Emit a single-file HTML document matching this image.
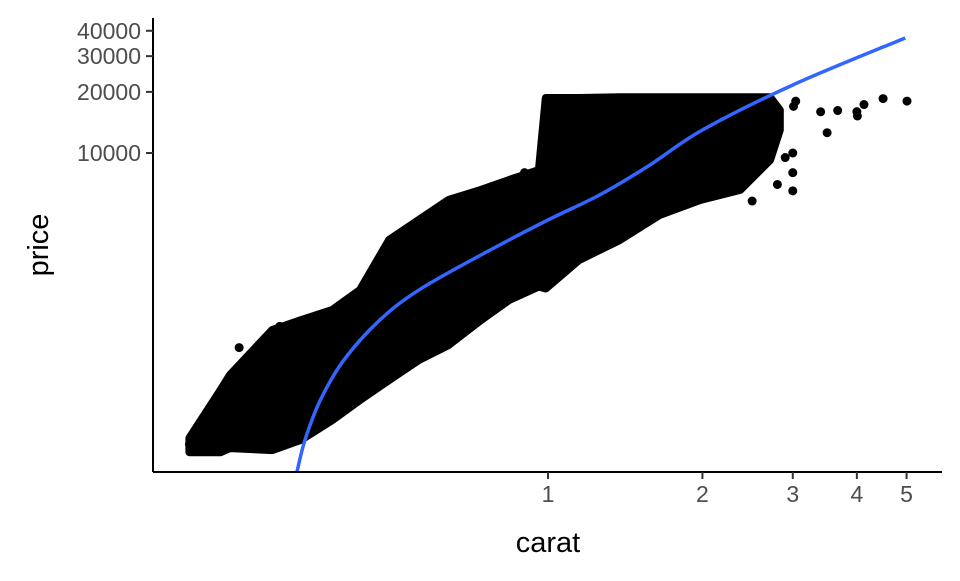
<!DOCTYPE html>
<html><head><meta charset="utf-8"><style>
body{margin:0;background:#fff}
svg text{font-family:"Liberation Sans",sans-serif}
</style></head><body>
<svg id="chart" width="960" height="576" viewBox="0 0 960 576" xmlns="http://www.w3.org/2000/svg">
<defs><clipPath id="plotclip"><rect x="153" y="18" width="789" height="454"/></clipPath></defs>
<g id="band" clip-path="url(#plotclip)"></g>
<g id="pts"></g>
<g id="smooth" clip-path="url(#plotclip)"></g>
<line x1="153" y1="472" x2="942" y2="472" stroke="#000" stroke-width="2"/>
<line x1="153" y1="18" x2="153" y2="472" stroke="#000" stroke-width="2"/>
<g id="xt"></g>
<g id="yt"></g>
<text x="548" y="552" font-size="29" text-anchor="middle" fill="#000">carat</text>
<text transform="translate(48,245) rotate(-90)" font-size="29" text-anchor="middle" fill="#000">price</text>
</svg>
<script>
const bandCarat = [0.2,0.23,0.24,0.29,0.33,0.38,0.43,0.49,0.56,0.64,0.74,0.84,0.96,0.99,1.15,1.38,1.65,1.98,2.37,2.71,2.83];
const bandHigh = [394,680,806,1343,1503,1686,2113,3727,4677,5866,6577,7365,8246,18660,18660,18800,18800,18800,18800,18800,16290];
const bandLow = [336,336,352,344,386,484,607,762,955,1133,1503,1888,2200,2150,2972,3727,4950,5866,6577,9240,12980];
const outCarat = [5.01,4.5,4.13,4.01,4.0,3.67,3.5,3.4,3.04,3.01,3.0,3.0,3.0,2.8,2.5,0.3,0.5,0.7,0.9,0.25,0.28,0.2,0.21,2.9];
const outPrice = [18018,18531,17329,15223,15984,16193,12587,15964,18000,16970,10000,8000,6512,7000,5800,1400,3500,5900,8000,1100,900,367,345,9500];
const lineCarat = [0.324,0.336,0.36,0.40,0.47,0.56,0.74,1.0,1.26,1.58,2.0,3.0,4.97];
const linePrice = [268,386,607,955,1503,2113,3145,4677,6210,8730,12980,21630,36870];
const xTicks = [1,2,3,4,5];
const xTickLabels = ["1","2","3","4","5"];
const yTicks = [10000,20000,30000,40000];
const yTickLabels = ["10000","20000","30000","40000"];

const NS="http://www.w3.org/2000/svg";
const xs = c => 548 + 513*Math.log10(c);
const ys = p => 153 - 203*Math.log10(p/10000);
function mk(tag, attrs, parent){const e=document.createElementNS(NS,tag);for(const k in attrs)e.setAttribute(k,attrs[k]);parent.appendChild(e);return e;}

let d="";
bandCarat.forEach((c,i)=>{d+=(i?"L":"M")+xs(c).toFixed(1)+","+ys(bandHigh[i]).toFixed(1);});
for(let i=bandCarat.length-1;i>=0;i--){d+="L"+xs(bandCarat[i]).toFixed(1)+","+ys(bandLow[i]).toFixed(1);}
d+="Z";
const bp=mk("path",{d:d,fill:"#000",stroke:"#000","stroke-width":"8","stroke-linejoin":"round"},document.getElementById("band"));



const pg=document.getElementById("pts");
outCarat.forEach((c,i)=>{
  const p=mk("circle",{cx:xs(c),cy:ys(outPrice[i]),r:4.5,fill:"#000"},pg);
  
  
});

// smooth curve (Catmull-Rom) through line points
const P=lineCarat.map((c,i)=>[xs(c),ys(linePrice[i])]);
let ld="M"+P[0][0]+","+P[0][1];
for(let i=0;i<P.length-1;i++){
  const p0=P[Math.max(0,i-1)],p1=P[i],p2=P[i+1],p3=P[Math.min(P.length-1,i+2)];
  const c1=[p1[0]+(p2[0]-p0[0])/6,p1[1]+(p2[1]-p0[1])/6];
  const c2=[p2[0]-(p3[0]-p1[0])/6,p2[1]-(p3[1]-p1[1])/6];
  ld+="C"+c1.join(",")+" "+c2.join(",")+" "+p2.join(",");
}
const lp=mk("path",{d:ld,fill:"none",stroke:"#3366FF","stroke-width":"3.5","stroke-linejoin":"round"},document.getElementById("smooth"));



const xt=document.getElementById("xt");
xTicks.forEach((v,i)=>{
  const x=xs(v);
  const t=mk("line",{x1:x,x2:x,y1:472,y2:479,stroke:"#333","stroke-width":"2"},xt);
  
  
  const l=mk("text",{x:x,y:502,"font-size":"23","text-anchor":"middle",fill:"#4d4d4d"},xt);
  l.textContent=xTickLabels[i];
  
  
});
const yt=document.getElementById("yt");
yTicks.forEach((v,i)=>{
  const y=ys(v);
  const t=mk("line",{x1:146,x2:153,y1:y,y2:y,stroke:"#333","stroke-width":"2"},yt);
  
  
  const l=mk("text",{x:141,y:y+8,"font-size":"23","text-anchor":"end",fill:"#4d4d4d"},yt);
  l.textContent=yTickLabels[i];
  
  
});
</script>
</body></html>
